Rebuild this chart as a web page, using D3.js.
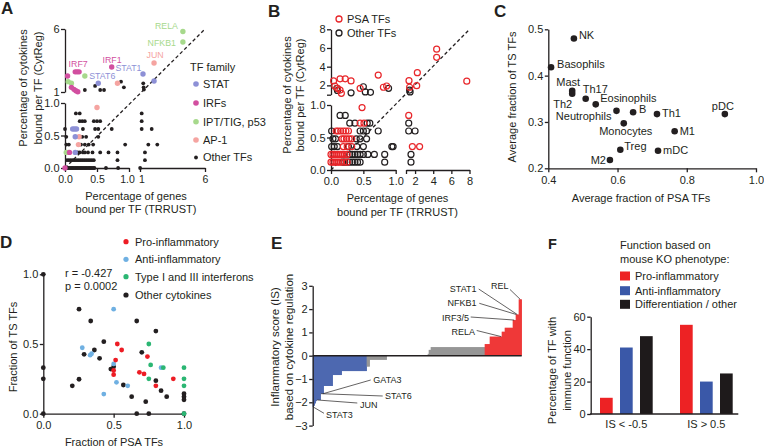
<!DOCTYPE html>
<html><head><meta charset="utf-8">
<script src="https://cdn.jsdelivr.net/npm/d3@7"></script>
<style>
body{margin:0;background:#fff}
svg{display:block}
text{font-family:"Liberation Sans",Arial,Helvetica,sans-serif}
</style>
</head><body>
<script>
// ================= DATA =================
// ---- Panel A : % cytokines (CytReg) vs % genes (TRRUST), by TF family
const aFamilies = ["STAT", "IRFs", "IPT/TIG, p53", "AP-1", "Other TFs"];
const aStat = [[1.23,2.43],[2.08,1.87],[0.52,1.7],[0.12,0.6],[0.15,0.6],[0.18,0.6],[0.16,0.48],[0.16,0.24]];
const aIrf  = [[0.73,2.98],[0.16,2.6],[0.19,2.6],[0.22,2.6],[0.04,2.27],[0.1,1.37],[0.14,1.21],[0.17,1.1],[0.2,1.02],[0.07,0.24],[0.0,0.0]];
const aIpt  = [[4.3,5.8],[4.3,4.97],[0.31,2.27],[0.05,1.82],[0.1,1.69],[0.02,0.24],[0.05,0.24]];
const aAp1  = [[2.08,3.3],[0.82,1.7],[0.5,0.93],[0.22,0.48],[0.21,0.36]];
const aOther = [
  [0.31,1.16],[0.47,1.48],[0.55,1.16],[0.61,1.16],[0.875,1.82],[0.92,1.37],[1.25,1.69],[1.28,1.37],[1.3,1.2],
  [0.02,0],[0.04,0],[0.06,0],[0.08,0],[0.1,0],[0.12,0],[0.14,0],[0.16,0],[0.18,0],[0.2,0],[0.22,0],[0.24,0],[0.26,0],
  [0.28,0],[0.3,0],[0.32,0],[0.34,0],[0.36,0],[0.38,0],[0.4,0],[0.42,0],[0.44,0],[0.46,0],[0.64,0],[0.83,0],[1.01,0],
  [0.03,0.12],[0.06,0.12],[0.09,0.12],[0.12,0.12],[0.15,0.12],[0.18,0.12],[0.21,0.12],[0.24,0.12],[0.27,0.12],
  [0.3,0.12],[0.33,0.12],[0.36,0.12],[0.39,0.12],[0.42,0.12],[0.45,0.12],[0.82,0.12],[1.38,0.12],
  [0.2,0.24],[0.23,0.24],[0.28,0.24],[0.31,0.24],[0.36,0.24],[0.43,0.24],[0.55,0.24],[0.68,0.24],[0.82,0.24],[1.38,0.24],
  [0.02,0.36],[0.06,0.36],[0.25,0.36],[0.31,0.36],[0.37,0.36],[0.44,0.36],[0.94,0.36],[1.64,0.36],[2.33,0.36],
  [0.02,0.48],[0.27,0.48],[0.33,0.48],[0.52,0.48],
  [0.0,0.6],[0.28,0.6],[0.47,0.6],[0.52,0.6],[0.73,0.6],[1.13,0.6],[1.9,0.6],
  [0.23,0.72],[0.27,0.72],[0.31,0.72],[0.45,0.72],[0.5,0.72],[0.55,0.72],[1.13,0.72],
  [0.17,0.84],[0.23,0.84],[1.13,0.84]
];
const aLabels = [
  {text:"RELA", family:2, index:0}, {text:"NFKB1", family:2, index:1},
  {text:"JUN", family:3, index:0},  {text:"IRF1", family:1, index:0},
  {text:"STAT1", family:0, index:0},{text:"STAT6", family:0, index:2},
  {text:"IRF7", family:1, index:2}
];
const aTicksLow = [0, 0.5, 1];
const aTicksHigh = [1, 6];

// ---- Panel B : PSA TFs vs other TFs
const bSeries = ["PSA TFs", "Other TFs"];
const bPsa = [
  [4.38,5.87],[4.38,5.0],[7.7,2.45],[2.25,3.36],[1.33,2.5],[2.18,1.97],[1.4,1.8],[0.73,3.1],[0.86,1.93],[0.81,1.8],
  [0.45,1.68],[0.04,2.47],[0.14,2.7],[0.22,2.7],[0.31,2.47],[0.06,1.93],[0.1,1.68],[0.14,1.5],[0.16,1.15],
  [0.48,0.96],[1.3,0.84],[0.45,0.72],[0.51,0.72],
  [0.08,0.6],[0.11,0.6],[0.15,0.6],[0.19,0.6],[0.23,0.6],[0.27,0.6],
  [0.17,0.48],[0.2,0.48],[0.24,0.48],[0.28,0.48],[0.32,0.48],
  [0.19,0.36],[0.25,0.36],[0.32,0.36],[1.7,0.36],[2.5,0.36],
  [0.0,0.24],[0.03,0.24],[0.06,0.24],[0.09,0.24],[0.12,0.24],[0.15,0.24],[0.18,0.24],[0.21,0.24],[0.25,0.24],
  [0.0,0.12],[0.03,0.12],[0.06,0.12],[0.09,0.12],[0.12,0.12],[0.15,0.12],[0.2,0.12],[0.25,0.12]
];
const bOther = [
  [0.09,1.68],[0.1,1.45],[0.31,1.2],[0.5,1.85],[0.53,1.3],[0.61,1.25],[0.89,1.68],[1.4,1.5],[1.45,1.3],
  [0.14,0.84],[0.22,0.84],
  [0.29,0.72],[0.37,0.72],[0.56,0.72],[0.6,0.72],[1.3,0.72],
  [0.01,0.6],[0.45,0.6],[0.5,0.6],[0.55,0.6],[0.73,0.6],[1.3,0.6],[2.0,0.6],
  [0.03,0.48],[0.07,0.48],[0.39,0.48],[0.45,0.48],[0.55,0.48],
  [0.01,0.36],[0.05,0.36],[0.1,0.36],[0.27,0.36],[0.4,0.36],[0.5,0.36],[0.94,0.36],[0.96,0.36],
  [0.29,0.24],[0.33,0.24],[0.37,0.24],[0.41,0.24],[0.45,0.24],[0.5,0.24],[0.57,0.24],[0.67,0.24],[0.83,0.24],[1.55,0.24],
  [0.18,0.12],[0.21,0.12],[0.25,0.12],[0.29,0.12],[0.33,0.12],[0.37,0.12],[0.41,0.12],[0.45,0.12],[0.83,0.12],[1.55,0.12]
];
const bTicksLow = [0, 0.5, 1];
const bTicksHigh = [1, 2, 4, 6, 8];

// ---- Panel C : immune cell types
const cCells = ["NK","Basophils","Mast","Th2","Th17","Eosinophils","Neutrophils","B","Th1","pDC","Monocytes","M1","Treg","mDC","M2"];
const cPsa   = [0.474,0.408,0.469,0.469,0.508,0.537,0.597,0.645,0.714,0.91,0.618,0.765,0.608,0.717,0.578];
const cTs    = [0.48,0.418,0.367,0.361,0.35,0.338,0.324,0.321,0.317,0.317,0.297,0.28,0.24,0.238,0.218];
const cTicksX = [0.4, 0.6, 0.8, 1.0];
const cTicksY = [0.2, 0.3, 0.4, 0.5];

// ---- Panel D : cytokines
const dGroups = ["Pro-inflammatory","Anti-inflammatory","Type I and III interferons","Other cytokines"];
const dPro  = [[0.526,0.5],[0.557,0.457],[0.514,0.385],[0.5,0.31],[0.5,0.28],[0.683,0.297],[0.716,0.285],[0.74,0.41],[0.8,0.2],[0.924,0.25]];
const dAnti = [[0.5,0.75],[0.277,0.473],[0.333,0.42],[0.343,0.43],[0.5,0.357],[0.52,0.225],[0.6,0.2],[0.43,0.141],[0.837,0.33]];
const dIfn  = [[0.75,0.5],[0.763,0.35],[0.75,0.25],[0.853,0.33],[1,0.33],[1,0.25],[1,0.2],[1,0]];
const dOther = [[0,1],[0,0.33],[0,0.25],[0,0],[0.254,0.75],[0.337,0.665],[0.43,0.517],[0.29,0.426],[0.363,0.457],[0.4,0.397],
  [0.48,0.32],[0.5,0.337],[0.206,0.2],[0.254,0.247],[0.569,0.206],[0.628,0.122],[0.664,0.665],[0.7,0.44],[0.728,0.086],
  [0.8,0.593],[0.8,0.237],[0.837,0.165],[0.877,0.122],[1,0.143],[1,0.122],[1,0.1],[0.664,0],[0.75,0],[1,0]];
const dStats = ["r = -0.427", "p = 0.0002"];
const dTicks = [0, 0.5, 1];

// ---- Panel E : inflammatory score per TF (sorted)
const eBlue = [
  -2.2, -2.15, -2.05, -1.95, -1.9, -1.9, -1.9, -1.9, -1.63, -1.63,
  -1.63, -1.3, -1.3, -1.3, -1.3, -1.3, -1.3, -1.3, -1.3, -1.3,
  -0.83, -0.83, -0.83, -0.83, -0.83, -0.83, -0.83, -0.83, -0.83, -0.66,
  -0.66, -0.66, -0.66, -0.66, -0.66, -0.66, -0.66, -0.66, -0.66, -0.66,
  -0.66, -0.66, -0.66, -0.66, -0.66, -0.66, -0.66, -0.66, -0.66, -0.66,
  -0.66, -0.66, -0.66, -0.66];
const eGreyNeg = [
  -0.47, -0.47, -0.47, -0.18, -0.18, -0.18, -0.18, -0.18, -0.18, -0.18,
  -0.18, -0.18, -0.18, -0.18, -0.18, -0.18, -0.18, -0.18, -0.18, -0.18];
const eZero = [
  0, 0, 0, 0, 0, 0, 0, 0, 0, 0,
  0, 0, 0, 0, 0, 0, 0, 0, 0, 0,
  0, 0, 0, 0, 0, 0, 0, 0, 0, 0,
  0, 0, 0, 0, 0, 0, 0, 0, 0, 0,
  0];
const eGreyPos = [
  0.08, 0.25, 0.25, 0.37, 0.37, 0.37, 0.37, 0.37, 0.37, 0.37,
  0.37, 0.37, 0.37, 0.37, 0.37, 0.37, 0.37, 0.37, 0.37, 0.37,
  0.37, 0.37, 0.37, 0.37, 0.37, 0.37, 0.37, 0.37, 0.37, 0.37,
  0.37, 0.37, 0.37, 0.37, 0.37, 0.37, 0.37, 0.37, 0.37, 0.37,
  0.37, 0.37, 0.37, 0.37, 0.37, 0.37, 0.37, 0.37, 0.37, 0.37,
  0.37, 0.37, 0.37, 0.37, 0.37, 0.37, 0.37];
const eRed = [
  0.5, 0.5, 0.5, 0.5, 0.5, 0.82, 0.82, 0.82, 0.82, 0.82,
  0.82, 0.82, 0.82, 0.82, 0.82, 0.82, 0.82, 1.03, 1.03, 1.03,
  1.2, 1.2, 1.2, 1.2, 1.2, 1.2, 1.2, 1.2, 1.53, 1.53,
  1.53, 1.77, 1.77, 1.77, 2.42, 2.42, 2.42];
const eLabels = [
  {text:"STAT1", bar:204},{text:"REL", bar:207},{text:"NFKB1", bar:203},{text:"IRF3/5", bar:201},{text:"RELA", bar:188},
  {text:"GATA3", bar:10},{text:"STAT6", bar:8},{text:"JUN", bar:4},{text:"STAT3", bar:0}
];
const eTicks = [-3,-2,-1,0,1,2,3];

// ---- Panel F
const fGroups = ["IS < -0.5", "IS > 0.5"];
const fSeries = ["Pro-inflammatory","Anti-inflammatory","Differentiation / other"];
const fValues = [[10, 41, 48], [55, 20, 25]];
const fTicks = [0, 20, 40, 60];

// ================= STYLE =================
const INK = "#231f20";
const FS = 11;
const colA = ["#8d90d6", "#d24fa0", "#a7d98c", "#f5a4a1", INK];
const colB = ["#e8262a", INK];
const colD = ["#ed1c24", "#6fb0e2", "#2bb673", INK];
const colE = {blue:"#3a58a8", grey:"#8a8a8a", red:"#ed2224"};
const colF = ["#ed2224", "#3a58a8", "#1e1a1b"];

const svg = d3.select("body").append("svg").attr("width",764).attr("height",448);

function txt(g, s, x, y, o) {
  o = o || {};
  return g.append("text").attr("x",x).attr("y",y)
    .attr("font-size", o.fs || FS).attr("text-anchor", o.anchor || "start")
    .attr("font-weight", o.bold ? "bold" : null)
    .attr("fill", o.fill || INK).text(s);
}
function vtxt(g, s, cx, cy, fs) {
  g.append("text").attr("transform", `translate(${cx},${cy}) rotate(-90)`)
    .attr("dy","0.35em").attr("text-anchor","middle")
    .attr("font-size", fs || FS).attr("fill", INK).text(s);
}
function sty(sel, fs) {
  sel.attr("font-family", null).attr("font-size", fs || FS);
  sel.selectAll("path,line").attr("stroke", INK).attr("stroke-width", 1.3);
  sel.selectAll("text").attr("fill", INK);
  return sel;
}
const f1 = d3.format(".1f");

// ================= PANEL A =================
{
  const g = svg.append("g");
  const xL = d3.scaleLinear().domain([0,1]).range([65,129]);
  const xH = d3.scaleLinear().domain([1,6]).range([140,205]);
  const yL = d3.scaleLinear().domain([0,1]).range([168,103]);
  const yH = d3.scaleLinear().domain([1,6]).range([92,29]);
  const X = v => v > 1 ? xH(v) : xL(v);
  const Y = v => v > 1 ? yH(v) : yL(v);

  sty(g.append("g").attr("transform","translate(65,0)")
    .call(d3.axisLeft(yL).tickValues(aTicksLow).tickFormat(f1).tickSize(4).tickSizeOuter(0).tickPadding(1.5)));
  sty(g.append("g").attr("transform","translate(65,0)")
    .call(d3.axisLeft(yH).tickValues(aTicksHigh).tickFormat(d3.format("d")).tickSize(4).tickSizeOuter(0).tickPadding(1.5)));
  const axl = sty(g.append("g").attr("transform","translate(0,168)")
    .call(d3.axisBottom(xL).tickValues(aTicksLow).tickFormat(f1).tickSize(4).tickSizeOuter(0).tickPadding(4)), 10.5);
  axl.selectAll(".tick text").filter(d => d === 1).attr("dx", -2);
  const axh = sty(g.append("g").attr("transform","translate(0,168)")
    .call(d3.axisBottom(xH).tickValues(aTicksHigh).tickFormat(d3.format("d")).tickSize(4).tickSizeOuter(0).tickPadding(4)), 10.5);
  axh.selectAll(".tick text").filter(d => d === 1).attr("dx", 1.5);

  g.append("line").attr("x1",xL(0)).attr("y1",yL(0)).attr("x2",xH(6)).attr("y2",yH(6))
    .attr("stroke",INK).attr("stroke-width",1.3).attr("stroke-dasharray","3.5,2.5");

  const fams = [aStat, aIrf, aIpt, aAp1, aOther];
  const order = [4, 2, 3, 1, 0];
  order.forEach(k => {
    g.append("g").selectAll("circle").data(fams[k]).join("circle")
      .attr("cx", d => X(d[0])).attr("cy", d => Y(d[1]))
      .attr("r", k === 4 ? 1.9 : 2.7).attr("fill", colA[k]);
  });

  const lp = {RELA:[-5,-2.7,"end"], NFKB1:[-7,3.7,"end"], JUN:[1,-4.6,"middle"], IRF1:[0.3,-3.8,"middle"],
              STAT1:[-1.5,-2.5,"end"], STAT6:[4,-3.8,"middle"], IRF7:[1,-4.8,"middle"]};
  aLabels.forEach(l => {
    const d = fams[l.family][l.index], p = lp[l.text];
    txt(g, l.text, X(d[0]) + p[0], Y(d[1]) + p[1], {fs:8.8, anchor:p[2], fill:colA[l.family]});
  });

  // legend
  txt(g, "TF family", 190, 70.5, {fs:11});
  const ly = [84, 103, 121.7, 140, 157.5];
  aFamilies.forEach((f, i) => {
    g.append("circle").attr("cx",196).attr("cy",ly[i]).attr("r", i === 4 ? 1.9 : 2.8).attr("fill", colA[i]);
    txt(g, f, 203, ly[i] + 3.9, {fs:11});
  });

  vtxt(g, "Percentage of cytokines", 23.5, 88);
  vtxt(g, "bound per TF (CytReg)", 38.5, 88);
  txt(g, "Percentage of genes", 136, 199.5, {anchor:"middle"});
  txt(g, "bound per TF (TRRUST)", 136, 213, {anchor:"middle"});
  txt(g, "A", 1, 14, {fs:17, bold:true});
}

// ================= PANEL B =================
{
  const g = svg.append("g");
  const xL = d3.scaleLinear().domain([0,1]).range([331,395.7]);
  const xH = d3.scaleLinear().domain([1,8]).range([406,469.5]);
  const yL = d3.scaleLinear().domain([0,1]).range([170,105]);
  const yH = d3.scaleLinear().domain([1,8]).range([94.7,29.3]);
  const X = v => v > 1 ? xH(v) : xL(v);
  const Y = v => v > 1 ? yH(v) : yL(v);
  const hf = v => v === 1 ? "" : v;

  sty(g.append("g").attr("transform","translate(331,0)")
    .call(d3.axisLeft(yL).tickValues(bTicksLow).tickFormat(f1).tickSize(4).tickSizeOuter(0).tickPadding(1.5)));
  sty(g.append("g").attr("transform","translate(331,0)")
    .call(d3.axisLeft(yH).tickValues(bTicksHigh).tickFormat(hf).tickSize(4).tickSizeOuter(0).tickPadding(1.5)));
  sty(g.append("g").attr("transform","translate(0,170)")
    .call(d3.axisBottom(xL).tickValues(bTicksLow).tickFormat(f1).tickSize(4).tickSizeOuter(0).tickPadding(3.5)));
  sty(g.append("g").attr("transform","translate(0,170)")
    .call(d3.axisBottom(xH).tickValues(bTicksHigh).tickFormat(hf).tickSize(4).tickSizeOuter(0).tickPadding(3.5)));

  g.append("line").attr("x1",xL(0)).attr("y1",yL(0)).attr("x2",xH(8)).attr("y2",yH(8))
    .attr("stroke",INK).attr("stroke-width",1.3).attr("stroke-dasharray","3.5,2.5");

  [bOther, bPsa].forEach((s, k) => {
    g.append("g").selectAll("circle").data(s).join("circle")
      .attr("cx", d => X(d[0])).attr("cy", d => Y(d[1])).attr("r", 3)
      .attr("fill","none").attr("stroke", k === 1 ? colB[0] : colB[1]).attr("stroke-width",1.2);
  });

  bSeries.forEach((s, i) => {
    g.append("circle").attr("cx",339).attr("cy",19 + i*14).attr("r",3)
      .attr("fill","none").attr("stroke",colB[i]).attr("stroke-width",1.3);
    txt(g, s, 347, 23 + i*14, {fs:11});
  });

  vtxt(g, "Percentage of cytokines", 287, 95);
  vtxt(g, "bound per TF (CytReg)", 300.5, 95);
  txt(g, "Percentage of genes", 397.5, 201.5, {anchor:"middle"});
  txt(g, "bound per TF (TRRUST)", 397.5, 215.5, {anchor:"middle"});
  txt(g, "B", 268, 17, {fs:17, bold:true});
}

// ================= PANEL C =================
{
  const g = svg.append("g");
  const x = d3.scaleLinear().domain([0.4,1.0]).range([548.3,756]);
  const y = d3.scaleLinear().domain([0.2,0.5]).range([168.3,29.3]);
  sty(g.append("g").attr("transform","translate(548.3,0)")
    .call(d3.axisLeft(y).tickValues(cTicksY).tickFormat(f1).tickSize(3.5).tickSizeOuter(0).tickPadding(1.5)));
  sty(g.append("g").attr("transform","translate(0,168.3)")
    .call(d3.axisBottom(x).tickValues(cTicksX).tickFormat(f1).tickSize(4).tickSizeOuter(0).tickPadding(3.5)));

  g.selectAll("circle.c").data(cCells).join("circle")
    .attr("cx", (d,i) => x(cPsa[i])).attr("cy", (d,i) => y(cTs[i])).attr("r",3.3).attr("fill",INK);

  const lp = {NK:[5,0,"start"], Basophils:[6,0.5,"start"], Mast:[-4,-4.7,"middle"], Th2:[0,13.8,"end"],
    Th17:[-3,-5.6,"start"], Eosinophils:[4.5,-2,"start"], Neutrophils:[-5,9.4,"end"], B:[6,1,"start"],
    Th1:[5,3.4,"start"], pDC:[-2,-4.5,"middle"], Monocytes:[2,11.7,"middle"], M1:[5,3.4,"start"],
    Treg:[4,0.4,"start"], mDC:[5,3.4,"start"], M2:[-4,4,"end"]};
  cCells.forEach((c, i) => {
    const p = lp[c];
    txt(g, c, x(cPsa[i]) + p[0], y(cTs[i]) + p[1], {anchor:p[2]});
  });

  vtxt(g, "Average fraction of TS TFs", 512.5, 97);
  txt(g, "Average fraction of PSA TFs", 641, 201.5, {anchor:"middle"});
  txt(g, "C", 494, 17, {fs:17, bold:true});
}

// ================= PANEL D =================
{
  const g = svg.append("g");
  const x = d3.scaleLinear().domain([0,1]).range([43.3,184]);
  const y = d3.scaleLinear().domain([0,1]).range([413.7,274.3]);
  sty(g.append("g").attr("transform","translate(43.3,0)")
    .call(d3.axisLeft(y).tickValues(dTicks).tickFormat(f1).tickSize(3.5).tickSizeOuter(0).tickPadding(1.5)));
  sty(g.append("g").attr("transform","translate(0,413.7)")
    .call(d3.axisBottom(x).tickValues(dTicks).tickFormat(f1).tickSize(4).tickSizeOuter(0).tickPadding(4)));

  [dOther, dAnti, dPro, dIfn].forEach(s => {
    const k = s === dPro ? 0 : s === dAnti ? 1 : s === dIfn ? 2 : 3;
    g.append("g").selectAll("circle").data(s).join("circle")
      .attr("cx", d => x(d[0])).attr("cy", d => y(d[1])).attr("r", 2.4).attr("fill", colD[k]);
  });

  const ly = [241.7, 259.3, 276.7, 295];
  dGroups.forEach((s, i) => {
    g.append("circle").attr("cx",126).attr("cy",ly[i]).attr("r",2.6).attr("fill",colD[i]);
    txt(g, s, 135, ly[i] + 3.9);
  });
  txt(g, dStats[0], 65, 277.3);
  txt(g, dStats[1], 65, 290);

  vtxt(g, "Fraction of TS TFs", 13.5, 347);
  txt(g, "Fraction of PSA TFs", 114, 445.5, {anchor:"middle"});
  txt(g, "D", 0, 248, {fs:17, bold:true});
}

// ================= PANEL E =================
{
  const g = svg.append("g");
  const rows = [];
  eBlue.forEach(v => rows.push({v, c:colE.blue}));
  eGreyNeg.forEach(v => rows.push({v, c:colE.grey}));
  eZero.forEach(v => rows.push({v, c:colE.grey}));
  eGreyPos.forEach(v => rows.push({v, c:colE.grey}));
  eRed.forEach(v => rows.push({v, c:colE.red}));
  const x = d3.scaleBand().domain(d3.range(rows.length)).range([312.7,521.7]).padding(0);
  const y = d3.scaleLinear().domain([-3,3]).range([425.6,285.8]);

  g.append("g").selectAll("rect").data(rows).join("rect")
    .attr("x", (d,i) => x(i)).attr("width", x.bandwidth() + 0.15)
    .attr("y", d => Math.min(y(d.v), y(0))).attr("height", d => Math.abs(y(d.v) - y(0)))
    .attr("fill", d => d.c);

  g.append("line").attr("x1",312.7).attr("x2",521.7).attr("y1",y(0)).attr("y2",y(0))
    .attr("stroke",INK).attr("stroke-width",1.4);
  sty(g.append("g").attr("transform","translate(312.7,0)")
    .call(d3.axisLeft(y).tickValues(eTicks).tickFormat(d3.format("d")).tickSize(3.5).tickSizeOuter(0).tickPadding(1.5)));

  const lp = {
    STAT1:[476.5,291.5,"end",478.7,289], REL:[508.5,289,"end",510,289.5], NFKB1:[476.5,306,"end",479.3,303.3],
    "IRF3/5":[469,320.5,"end",470.7,317], RELA:[475,335,"end",476.7,330.5],
    GATA3:[373.3,382.5,"start",370.7,380], STAT6:[385,399,"start",382.7,396],
    JUN:[360,407.5,"start",357.3,403], STAT3:[326,418,"start",324,413.3]
  };
  eLabels.forEach(l => {
    const bi = Math.min(l.bar, rows.length - 1);
    const p = lp[l.text], d = rows[bi];
    g.append("line").attr("x1",p[3]).attr("y1",p[4])
      .attr("x2", x(bi) + x.bandwidth()/2).attr("y2", y(d.v))
      .attr("stroke",INK).attr("stroke-width",0.7);
    txt(g, l.text, p[0], p[1], {fs:9, anchor:p[2]});
  });

  vtxt(g, "Inflammatory score (IS)", 275.3, 347, 11.5);
  vtxt(g, "based on cytokine regulation", 288.5, 347, 11.5);
  txt(g, "E", 271, 249, {fs:17, bold:true});
}

// ================= PANEL F =================
{
  const g = svg.append("g");
  const x0 = d3.scaleBand().domain(fGroups).range([586.3,746.3]).padding(0);
  const x1 = d3.scaleBand().domain(fSeries).range([13.7,66.4]).paddingInner(0.365).paddingOuter(0);
  const y = d3.scaleLinear().domain([0,60]).range([414,316.7]);

  fGroups.forEach((grp, gi) => {
    g.append("g").selectAll("rect").data(fValues[gi]).join("rect")
      .attr("x", (d,i) => x0(grp) + x1(fSeries[i])).attr("width", x1.bandwidth())
      .attr("y", d => y(d)).attr("height", d => y(0) - y(d))
      .attr("fill", (d,i) => colF[i]);
  });

  sty(g.append("g").attr("transform","translate(590.7,0)")
    .call(d3.axisLeft(y).tickValues(fTicks).tickSize(3.5).tickSizeOuter(0).tickPadding(1.5)));
  g.append("line").attr("x1",590).attr("x2",738.3).attr("y1",y(0)).attr("y2",y(0))
    .attr("stroke",INK).attr("stroke-width",1.3);
  const xa = sty(g.append("g").attr("transform",`translate(0,${y(0)})`)
    .call(d3.axisBottom(x0).tickSize(0).tickPadding(6)));
  xa.select(".domain").remove();

  txt(g, "Function based on", 620, 248.5);
  txt(g, "mouse KO phenotype:", 620, 262.5);
  const ly = [276, 290.7, 304.3];
  fSeries.forEach((s, i) => {
    g.append("rect").attr("x",620).attr("y",ly[i]-4.5).attr("width",10).attr("height",9).attr("fill",colF[i]);
    txt(g, s, 635, ly[i] + 3.9);
  });

  vtxt(g, "Percentage of TF with", 552.5, 370.5);
  vtxt(g, "immune function", 566.8, 370.5);
  txt(g, "F", 548, 249, {fs:14.5, bold:true});
}
</script>
</body></html>
